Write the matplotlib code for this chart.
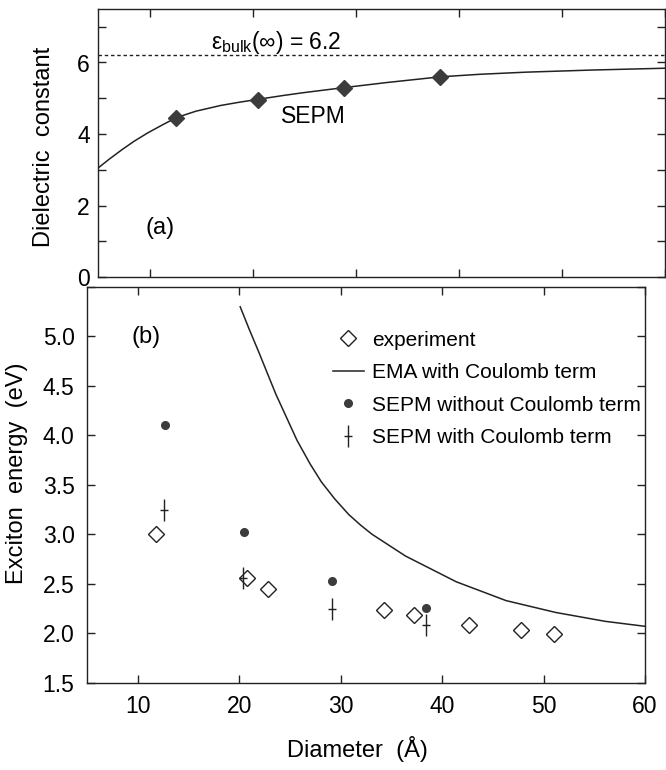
import matplotlib
matplotlib.use("Agg")
import matplotlib.pyplot as plt
from matplotlib.path import Path
from matplotlib.ticker import MultipleLocator, FixedLocator, NullFormatter

plt.rcParams['font.family'] = ['Liberation Sans', 'DejaVu Sans']
plt.rcParams['mathtext.fontset'] = 'custom'
plt.rcParams['mathtext.rm'] = 'Liberation Sans'
plt.rcParams['mathtext.it'] = 'Liberation Sans'

# ---- panel (a): dielectric constant ----
eps_bulk = 6.2
eps_diam = [12.6, 20.5, 28.9, 38.2]
eps_sepm = [4.46, 4.95, 5.30, 5.60]
eps_curve_x = [5, 6, 7.3, 8.5, 9.8, 11.2, 12.6, 14.5, 16.9, 18.7, 20.5, 23, 25,
               28.9, 33, 38.2, 42, 46.5, 53, 60]
eps_curve_y = [3.05, 3.28, 3.56, 3.80, 4.03, 4.25, 4.46, 4.64, 4.80, 4.89, 4.97,
               5.08, 5.16, 5.30, 5.44, 5.60, 5.67, 5.73, 5.79, 5.84]

# ---- panel (b): exciton energy ----
exp_diam = [11.8, 20.8, 22.8, 34.3, 37.2, 42.7, 47.8, 51.0]
exp_energy = [3.00, 2.56, 2.45, 2.23, 2.18, 2.08, 2.03, 1.99]
ema_x = [20.1, 21.0, 21.9, 23.6, 25.7, 27.0, 28.1, 29.4, 30.8, 32.0, 33.1,
         36.4, 41.4, 46.3, 51.2, 56.1, 60]
ema_y = [5.30, 5.07, 4.85, 4.42, 3.95, 3.71, 3.53, 3.36, 3.20, 3.09, 3.00,
         2.78, 2.52, 2.33, 2.21, 2.12, 2.07]
nocoul_diam = [12.7, 20.5, 29.1, 38.4]
nocoul_energy = [4.10, 3.02, 2.53, 2.26]
coul_diam = [12.6, 20.4, 29.1, 38.4]
coul_energy = [3.25, 2.56, 2.25, 2.08]

ink = '#222222'
dagger = Path([(0, -1), (0, 1), (-0.35, 0), (0.35, 0)],
              [Path.MOVETO, Path.LINETO, Path.MOVETO, Path.LINETO])

fig = plt.figure(figsize=(6.66, 7.7), dpi=100)
W, H = 666.0, 770.0
ax1 = fig.add_axes([98 / W, 1 - 277.3 / H, 567 / W, 268.5 / H])
ax2 = fig.add_axes([87 / W, 1 - 682.7 / H, 558 / W, 395.7 / H])

for ax in (ax1, ax2):
    for s in ax.spines.values():
        s.set_linewidth(1.0)
        s.set_color(ink)
    ax.tick_params(which='both', direction='in', top=True, right=True,
                   length=6, width=1.0, color=ink, labelsize=16.5)
    ax.set_xlim(5, 60)
    ax.xaxis.set_major_locator(FixedLocator([10, 20, 30, 40, 50, 60]))

# (a)
ax1.axhline(eps_bulk, color=ink, lw=1.0, ls=(0, (2.5, 2)))
ax1.plot(eps_curve_x, eps_curve_y, color=ink, lw=1.1)
ax1.plot(eps_diam, eps_sepm, ls='none', marker='D', ms=8, color='#3c3c3c')
ax1.set_ylim(0, 7.5)
ax1.yaxis.set_major_locator(MultipleLocator(2))
ax1.yaxis.set_minor_locator(MultipleLocator(1))
ax1.xaxis.set_major_formatter(NullFormatter())
ax1.tick_params(axis='y', pad=6)
ax1.set_ylabel('Dielectric  constant', fontsize=17)
ax1.yaxis.set_label_coords(-0.076, 0.486)
ax1.text(16.0, 6.55, r'$\varepsilon_{\mathrm{bulk}}(\infty)$ = 6.2', fontsize=16.5,
         va='center', ha='left')
ax1.text(25.9, 4.5, 'SEPM', fontsize=16.5, ha='center', va='center')
ax1.text(11.0, 1.37, '(a)', fontsize=17, ha='center', va='center')

# (b)
ax2.plot(ema_x, ema_y, color=ink, lw=1.1, label='EMA with Coulomb term')
ax2.plot(exp_diam, exp_energy, ls='none', marker='D', ms=8.5, mfc='white',
         mec=ink, mew=1.0, label='experiment')
ax2.plot(nocoul_diam, nocoul_energy, ls='none', marker='o', ms=5.5,
         color='#3c3c3c', label='SEPM without Coulomb term')
ax2.plot(coul_diam, coul_energy, ls='none', marker=dagger, ms=16, mew=1.0,
         color=ink, label='SEPM with Coulomb term')
ax2.set_ylim(1.5, 5.5)
ax2.yaxis.set_major_locator(FixedLocator([1.5, 2.0, 2.5, 3.0, 3.5, 4.0, 4.5, 5.0, 5.5]))
ax2.set_yticklabels(['1.5', '2.0', '2.5', '3.0', '3.5', '4.0', '4.5', '5.0', ''])
ax2.tick_params(axis='y', pad=9)
ax2.tick_params(axis='x', pad=9)
ax2.set_ylabel('Exciton  energy  (eV)', fontsize=17)
ax2.yaxis.set_label_coords(-0.105, 0.53)
ax2.set_xlabel('Diameter  (Å)', fontsize=17)
ax2.xaxis.set_label_coords(0.485, -0.135)
ax2.text(10.8, 4.99, '(b)', fontsize=17, ha='center', va='center')

h, l = ax2.get_legend_handles_labels()
order = [1, 0, 2, 3]
ax2.legend([h[i] for i in order], [l[i] for i in order], loc='upper left',
           bbox_to_anchor=(0.44, 0.89), frameon=False, fontsize=15,
           handlelength=1.5, handletextpad=0.4, labelspacing=0.65, borderpad=0,
           borderaxespad=0)

fig.savefig('out.png', dpi=100)
